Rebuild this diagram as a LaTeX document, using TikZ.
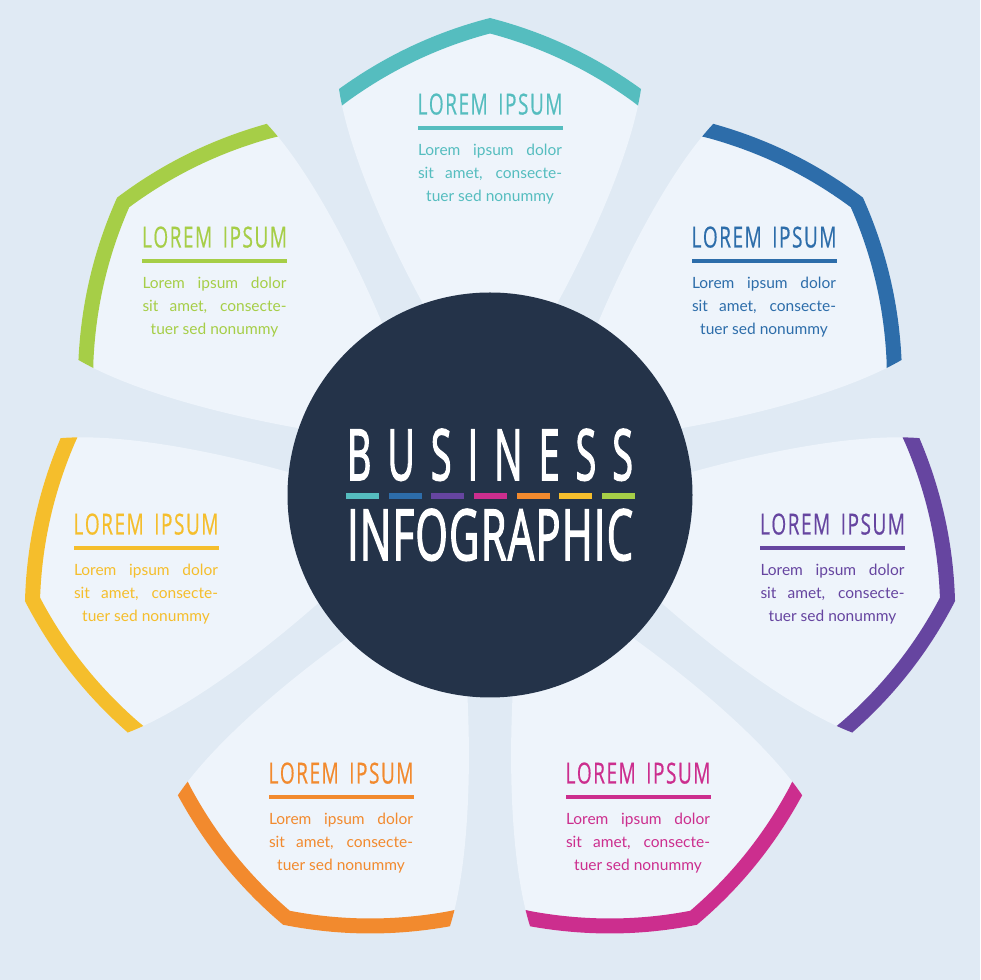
\documentclass[tikz,border=0pt]{standalone}
\usepackage{fontspec}
\usepackage{graphicx}
\setmainfont{Lato}
\newfontfamily\headfont[FakeBold=0.7]{Open Sans}
\newfontfamily\bigfont[FakeBold=2.5]{Open Sans}
\newfontfamily\bodyfont{Lato}

\definecolor{bgc}{HTML}{E0EAF4}
\definecolor{petalc}{HTML}{EEF4FB}
\definecolor{darkc}{HTML}{243349}
\definecolor{tealc}{HTML}{55BDBF}
\definecolor{bluec}{HTML}{2D6DAA}
\definecolor{purplec}{HTML}{6645A0}
\definecolor{magentac}{HTML}{CC2E8E}
\definecolor{orangec}{HTML}{F28A2E}
\definecolor{yellowc}{HTML}{F5BE2C}
\definecolor{greenc}{HTML}{A6CE47}

\tikzset{
  bandline/.style={line width=30pt, line join=miter},
  ttl/.style={inner sep=0pt, anchor=base},
  bodyline/.style={inner sep=0pt, anchor=base, font=\bodyfont\fontsize{15.5}{23}\selectfont},
  bigtxt/.style={inner sep=0pt, anchor=base, text=white},
}

\newcommand\drawpetal[2]{%
  \begin{scope}[shift={(490,485)}, rotate=#1]
    \fill[petalc] (0,80) .. controls (80,200) and (140,330) .. (151,406)
      .. controls (105,439.3) and (54.7,463) .. (0,477) .. controls (-54.7,463) and (-105,439.3) .. (-151,406)
      .. controls (-140,330) and (-80,200) .. (0,80) -- cycle;
    \begin{scope}
      \clip (0,80) .. controls (80,200) and (140,330) .. (151,406)
        .. controls (105,439.3) and (54.7,463) .. (0,477) .. controls (-54.7,463) and (-105,439.3) .. (-151,406)
        .. controls (-140,330) and (-80,200) .. (0,80) -- cycle;
      \draw[bandline, draw=#2] (172,390) -- (151,406) .. controls (105,439.3) and (54.7,463) .. (0,477)
        .. controls (-54.7,463) and (-105,439.3) .. (-151,406) -- (-172,390);
    \end{scope}
  \end{scope}}

\newcommand\lorem{L\kern1.6pt O\kern1.6pt R\kern1.6pt E\kern1.6pt M\hspace{11pt}I\kern1.6pt P\kern1.6pt S\kern1.6pt U\kern1.6pt M}

\newcommand\txtblock[4]{%
  \node[ttl, text=#4] (#1t) at ({#2}, {980-#3-10.5}) {\resizebox{145pt}{21pt}{\headfont\fontsize{20}{24}\selectfont\lorem}};
  \fill[#4] ({#2-72.5}, {980-#3-22.2}) rectangle ({#2+72.5}, {980-#3-25.8});
  \node[bodyline, text=#4] (#1a) at ({#2}, {980-#3-52}) {\makebox[144pt][s]{Lorem ipsum dolor}};
  \node[bodyline, text=#4] (#1b) at ({#2}, {980-#3-75}) {\makebox[144pt][s]{sit amet, consecte-}};
  \node[bodyline, text=#4] (#1c) at ({#2}, {980-#3-98}) {tuer sed nonummy};
}

\begin{document}
\begin{tikzpicture}[x=1pt, y=1pt]
  \useasboundingbox (0,0) rectangle (980,980);
  \fill[bgc] (0,0) rectangle (980,980);

  \drawpetal{0}{tealc}
  \drawpetal{-51.43}{bluec}
  \drawpetal{-102.86}{purplec}
  \drawpetal{-154.29}{magentac}
  \drawpetal{-205.71}{orangec}
  \drawpetal{-257.14}{yellowc}
  \drawpetal{-308.57}{greenc}

  \fill[darkc] (490,485) circle (202.5);

  \node[bigtxt] (biz) at (490, 500) {\resizebox{286pt}{51pt}{\bigfont\fontsize{20}{24}\selectfont\makebox[152pt][s]{B\hfill U\hfill S\hfill I\hfill N\hfill E\hfill S\hfill S}}};
  \node[bigtxt] (info) at (490, 420) {\resizebox{286pt}{51pt}{\bigfont\fontsize{20}{24}\selectfont I\kern0.6pt N\kern0.6pt F\kern0.6pt O\kern0.6pt G\kern0.6pt R\kern0.6pt A\kern0.6pt P\kern0.6pt H\kern0.6pt I\kern0.6pt C}};

  \foreach \c [count=\i from 0] in {tealc,bluec,purplec,magentac,orangec,yellowc,greenc}{
    \fill[\c] ({346+42.67*\i}, 481) rectangle ({379+42.67*\i}, 487);
  }

  \txtblock{tl}{490}{104}{tealc}
  \txtblock{bl}{764}{237}{bluec}
  \txtblock{gr}{214.5}{237}{greenc}
  \txtblock{pu}{832.5}{524}{purplec}
  \txtblock{ye}{146}{524}{yellowc}
  \txtblock{ma}{638}{773}{magentac}
  \txtblock{or}{341}{773}{orangec}
\end{tikzpicture}
\end{document}
